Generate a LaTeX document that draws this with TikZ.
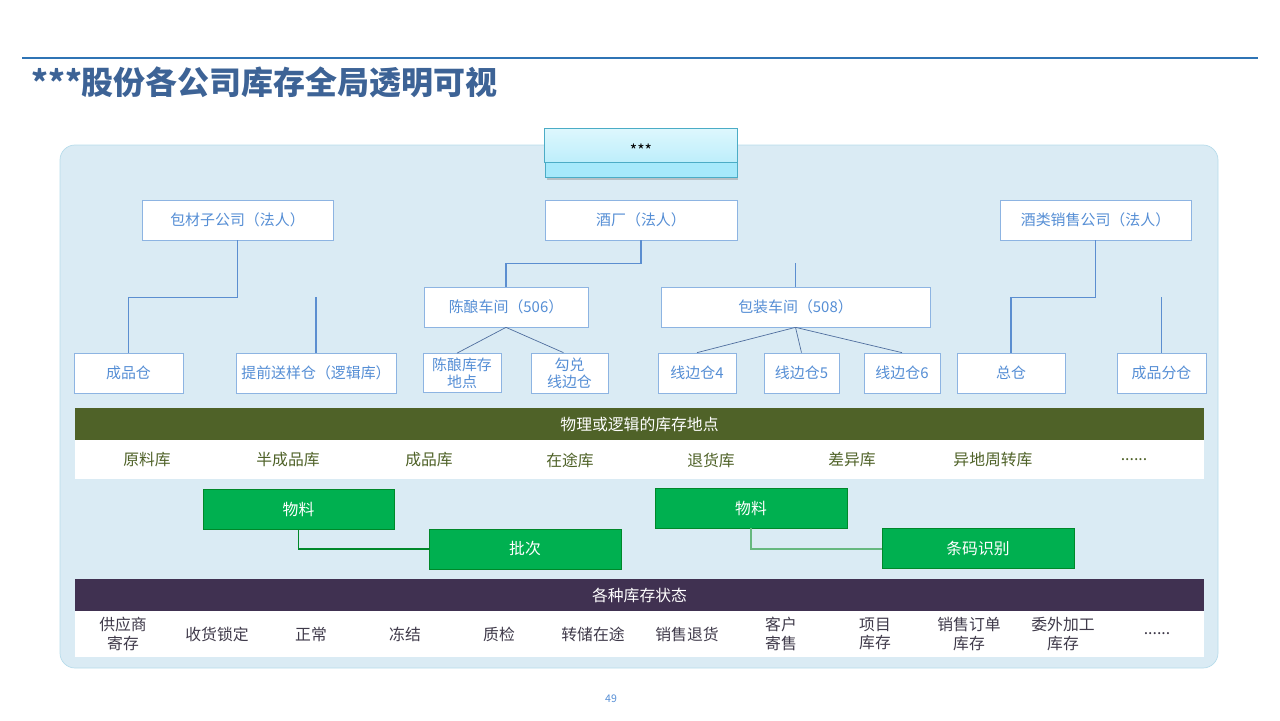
\documentclass[tikz,border=0pt]{standalone}
\usepackage{fontspec}
\setmainfont{Noto Sans CJK SC}
\usepackage{tikz}
\usetikzlibrary{positioning,shadows}

\definecolor{titleblue}{HTML}{3D6396}
\definecolor{ruleblue}{HTML}{2F74B5}
\definecolor{bgblue}{HTML}{DAEBF4}
\definecolor{bgedge}{HTML}{B7DCEB}
\definecolor{boxedge}{HTML}{8DB4E2}
\definecolor{boxtext}{HTML}{558ED5}
\definecolor{linkblue}{HTML}{5B8ED0}
\definecolor{leafline}{HTML}{4F6E9E}
\definecolor{olive}{HTML}{4F6228}
\definecolor{grbox}{HTML}{00B050}
\definecolor{gredge}{HTML}{00882A}
\definecolor{plum}{HTML}{403151}
\definecolor{statetext}{HTML}{3F3A4A}
\definecolor{cyantop}{HTML}{DDF7FD}
\definecolor{cyanmid}{HTML}{BDEEFB}
\definecolor{cyanband}{HTML}{A6E9FB}
\definecolor{cyanedge}{HTML}{4BACC6}

\newcommand{\sixdots}{......}

\begin{document}
\begin{tikzpicture}[x=0.02cm, y=-0.02cm]
    \tikzstyle{org}=[draw=boxedge, fill=white, text=boxtext, font=\fontsize{8.5}{10}\selectfont, minimum height=0.8cm, inner sep=0pt]
    \tikzstyle{wh}=[org, align=center, font=\fontsize{8.5}{9.5}\selectfont]
    \tikzstyle{link}=[draw=linkblue, semithick]
    \tikzstyle{leaf}=[draw=leafline]
    \tikzstyle{band}=[minimum width=22.58cm, minimum height=0.64cm, text=white, font=\fontsize{9}{10}\selectfont, inner sep=0pt]
    \tikzstyle{row}=[fill=white, minimum width=22.58cm, inner sep=0pt]
    \tikzstyle{gbox}=[draw=gredge, fill=grbox, text=white, font=\fontsize{9}{10}\selectfont, minimum width=3.84cm, minimum height=0.8cm]
    \tikzstyle{glink}=[draw=gredge, semithick]

    \useasboundingbox (0,0) rectangle (1280,720);

    % title
    \draw[ruleblue, semithick] (22,58) -- (1258,58);
    \node[anchor=west, text=titleblue, font=\fontsize{18.2}{20}\selectfont\bfseries] (title) at (25,82) {***股份各公司库存全局透明可视};

    % background panel
    \filldraw[fill=bgblue, draw=bgedge, rounded corners=0.3cm] (60,145) rectangle (1218,668);

    % group head
    \node[draw=cyanedge, fill=cyanband, minimum width=3.84cm, minimum height=0.96cm, drop shadow={opacity=0.4, shadow xshift=0.03cm, shadow yshift=-0.06cm}] (gs) at (641,153) {};
    \shade[top color=cyantop, bottom color=cyanmid] (gs.north west) rectangle ([yshift=0.3cm]gs.south east);
    \draw[cyanedge] (gs.north west) rectangle ([yshift=0.3cm]gs.south east);
    \node[font=\fontsize{9}{10}\selectfont] (gstxt) at (641,150) {***};

    % legal entities
    \node[org, minimum width=3.82cm] (bcgs) at (237.5,220) {包材子公司（法人）};
    \node[org, minimum width=3.84cm] (jc) at (641,220) {酒厂（法人）};
    \node[org, minimum width=3.82cm] (jlxs) at (1095.5,220) {酒类销售公司（法人）};

    % workshops
    \node[org, minimum width=3.28cm] (cnj) at (506,307) {陈酿车间（506）};
    \node[org, minimum width=5.38cm] (bzj) at (795.5,307) {包装车间（508）};

    % warehouses
    \node[wh, minimum width=2.18cm] (cpc) at (128.5,373) {成品仓};
    \node[wh, minimum width=3.2cm] (tqsy) at (316,373) {提前送样仓（逻辑库）};
    \node[wh, minimum width=1.56cm, minimum height=0.78cm] (cnkc) at (462,373) {陈酿库存\\地点};
    \node[wh, minimum width=1.54cm] (gd) at (569.5,373) {勾兑\\线边仓};
    \node[wh, minimum width=1.56cm] (x4) at (697,373) {线边仓4};
    \node[wh, minimum width=1.5cm] (x5) at (801.5,373) {线边仓5};
    \node[wh, minimum width=1.52cm] (x6) at (902,373) {线边仓6};
    \node[wh, minimum width=2.16cm] (zc) at (1011,373) {总仓};
    \node[wh, minimum width=1.78cm] (cpfc) at (1161.5,373) {成品分仓};

    \draw[link] (bcgs.south) -- ++(0,57) -| (cpc.north);
    \draw[link] (tqsy.north) -- ++(0,-56);
    \draw[link] (jc.south) -- ++(0,23) -| (cnj.north);
    \draw[link] (bzj.north) -- ++(0,-24);
    \draw[link] (jlxs.south) -- ++(0,57) -| (zc.north);
    \draw[link] (cpfc.north) -- ++(0,-56);

    \draw[leaf] (cnj.south) -- ([xshift=-0.1cm]cnkc.north);
    \draw[leaf] (cnj.south) -- ([xshift=-0.12cm]gd.north);
    \draw[leaf] (bzj.south) -- (x4.north);
    \draw[leaf] (bzj.south) -- (x5.north);
    \draw[leaf] (bzj.south) -- (x6.north);

    % storage locations
    \node[band, fill=olive] (wlbar) at (639.5,424) {物理或逻辑的库存地点};
    \node[row, minimum height=0.78cm] (wlrow) at (639.5,459.5) {};
    \foreach \t [count=\i] in {原料库,半成品库,成品库,在途库,退货库,差异库,异地周转库,\sixdots}
        \node[text=olive, font=\fontsize{9}{10}\selectfont] (loc\i) at (147+141*\i-141,460) {\t};

    % tracking
    \node[gbox, minimum width=3.82cm] (wla) at (298.5,509) {物料};
    \node[gbox] (pc) at (525,549) {批次};
    \node[gbox] (wlb) at (751,508) {物料};
    \node[gbox] (tm) at (978,548) {条码识别};
    \draw[glink] (wla.south) |- (pc.west);
    \draw[glink, draw=gredge!60] (wlb.south) |- ([yshift=-0.02cm]tm.west);

    % stock states
    \node[band, fill=plum] (ztbar) at (639.5,595) {各种库存状态};
    \node[row, minimum height=0.92cm] (ztrow) at (639.5,634) {};
    \foreach \t [count=\i] in {供应商\\寄存,收货锁定,正常,冻结,质检,转储在途,销售退货,客户\\寄售,项目\\库存,销售订单\\库存,委外加工\\库存,\sixdots}
        \node[text=statetext, align=center, font=\fontsize{9}{10.5}\selectfont] (st\i) at (123+94*\i-94,634) {\t};

    \node[text=boxtext, font=\fontsize{6}{7}\selectfont] (pg) at (611,699) {49};
\end{tikzpicture}
\end{document}
